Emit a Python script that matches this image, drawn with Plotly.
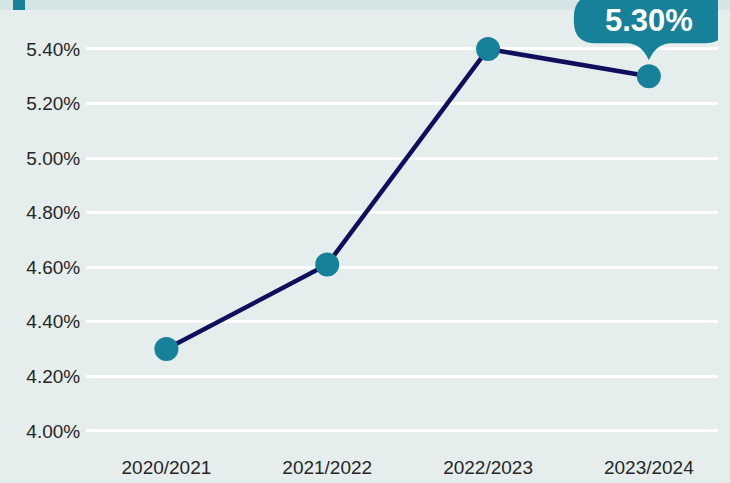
import plotly.graph_objects as go

# Data
seasons = ["2020/2021", "2021/2022", "2022/2023", "2023/2024"]
rates = [4.30, 4.61, 5.40, 5.30]
tick_vals = [4.0, 4.2, 4.4, 4.6, 4.8, 5.0, 5.2, 5.4]
tick_text = ["4.00%", "4.20%", "4.40%", "4.60%", "4.80%", "5.00%", "5.20%", "5.40%"]

BG = "#e5eded"
BAND = "#d5e4e4"
TEAL = "#18819a"
NAVY = "#0f0f5c"
FONT = "Liberation Sans, Arial"

fig = go.Figure()
fig.add_trace(go.Scatter(
    x=list(range(len(seasons))), y=rates, mode="lines+markers",
    line=dict(color=NAVY, width=4.5),
    marker=dict(color=TEAL, size=24),
    hoverinfo="skip",
))

last_i = len(rates) - 1
# callout bubble above the latest value (pixel offsets from the point, y up)
bubble = ("M -53,33 L -21,33 Q -7,32 0,16 Q 7,32 21,33 L 56,33 "
          "Q 78,33 78,55 L 78,59 Q 78,81 56,81 "
          "L -53,81 Q -75,81 -75,59 L -75,55 Q -75,33 -53,33 Z")
fig.add_shape(type="path", xref="x", yref="y", xsizemode="pixel", ysizemode="pixel",
              xanchor=last_i, yanchor=rates[last_i], path=bubble,
              fillcolor=TEAL, line=dict(width=0), layer="above")
fig.add_annotation(x=last_i, y=rates[last_i], xref="x", yref="y", yshift=56, xshift=0,
                   text=f"{rates[last_i]:.2f}%", showarrow=False,
                   font=dict(family=FONT, size=31, color="white", weight="bold"))

# header band with accent block
fig.add_shape(type="rect", xref="paper", yref="paper", x0=-86/632, x1=1+12/632,
              y0=1-10/450, y1=1, fillcolor=BAND, line=dict(width=0), layer="below")
fig.add_shape(type="rect", xref="paper", yref="paper", x0=(13-86)/632, x1=(25-86)/632,
              y0=1-10/450, y1=1, fillcolor=TEAL, line=dict(width=0))

fig.update_layout(
    width=730, height=483,
    margin=dict(l=86, r=12, t=0, b=33),
    paper_bgcolor=BG, plot_bgcolor=BG,
    showlegend=False,
    font=dict(family=FONT, size=19, color="#262626"),
    xaxis=dict(tickvals=list(range(len(seasons))), ticktext=seasons,
               range=[-0.5, 3.43], showgrid=False, zeroline=False,
               ticks="outside", ticklen=0, tickcolor="rgba(0,0,0,0)", showline=False),
    yaxis=dict(tickvals=tick_vals, ticktext=tick_text, range=[3.930, 5.5796],
               showgrid=True, gridcolor="white", gridwidth=2.5, zeroline=False,
               ticks="outside", ticklen=1, tickcolor="rgba(0,0,0,0)", showline=False),
)

fig.write_html("out.html")
